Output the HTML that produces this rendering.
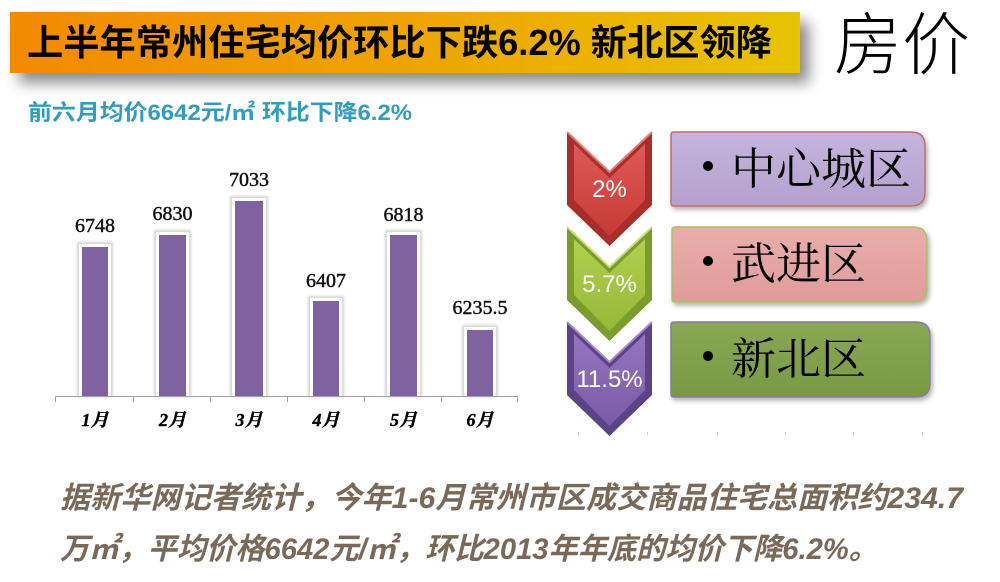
<!DOCTYPE html>
<html><head><meta charset="utf-8"><style>
html,body{margin:0;padding:0;background:#fff;}
svg{display:block;}
</style></head><body>
<svg width="1000" height="582" viewBox="0 0 1000 582" xmlns="http://www.w3.org/2000/svg">
<defs>
  <linearGradient id="ban" x1="0" y1="0" x2="1" y2="0">
    <stop offset="0" stop-color="#f38a00"/>
    <stop offset="0.5" stop-color="#eea400"/>
    <stop offset="1" stop-color="#e7c300"/>
  </linearGradient>
  <filter id="bsh" x="-5%" y="-20%" width="115%" height="180%">
    <feDropShadow dx="9" dy="10" stdDeviation="7" flood-color="#000" flood-opacity="0.45"/>
  </filter>
  <filter id="blur1"><feGaussianBlur stdDeviation="1.3"/></filter>
  <filter id="boxsh" x="-5%" y="-10%" width="115%" height="130%">
    <feDropShadow dx="2" dy="3" stdDeviation="2.5" flood-color="#000" flood-opacity="0.3"/>
  </filter>
  <linearGradient id="redg" x1="0" y1="0" x2="0" y2="1">
    <stop offset="0" stop-color="#df5a55"/><stop offset="1" stop-color="#c63a36"/>
  </linearGradient>
  <linearGradient id="greeng" x1="0" y1="0" x2="0" y2="1">
    <stop offset="0" stop-color="#b0d04e"/><stop offset="1" stop-color="#97b838"/>
  </linearGradient>
  <linearGradient id="purg" x1="0" y1="0" x2="0" y2="1">
    <stop offset="0" stop-color="#9475bf"/><stop offset="1" stop-color="#7b5aa6"/>
  </linearGradient>
  <linearGradient id="b1" x1="0" y1="0" x2="0" y2="1">
    <stop offset="0" stop-color="#c4b5dd"/><stop offset="1" stop-color="#b3a1cd"/>
  </linearGradient>
  <linearGradient id="b2" x1="0" y1="0" x2="0" y2="1">
    <stop offset="0" stop-color="#e9aeab"/><stop offset="1" stop-color="#df9c99"/>
  </linearGradient>
  <linearGradient id="b3" x1="0" y1="0" x2="0" y2="1">
    <stop offset="0" stop-color="#89a854"/><stop offset="1" stop-color="#789944"/>
  </linearGradient>
</defs>

<!-- Banner -->
<rect x="10" y="12" width="790" height="61" fill="url(#ban)" filter="url(#bsh)"/>
<text x="27" y="55" textLength="745" lengthAdjust="spacingAndGlyphs" font-family="'Liberation Sans','Noto Sans CJK SC',sans-serif" font-weight="bold" font-size="36" fill="#000">上半年常州住宅均价环比下跌6.2% 新北区领降</text>

<text x="834" y="69" textLength="136" lengthAdjust="spacingAndGlyphs" font-family="'Noto Sans CJK SC',sans-serif" font-weight="300" font-size="68" fill="#000">房价</text>

<!-- Subtitle -->
<text x="28" y="120" textLength="384" lengthAdjust="spacingAndGlyphs" font-family="'Liberation Sans','Noto Sans CJK SC',sans-serif" font-weight="bold" font-size="22" fill="#2e9dbf">前六月均价6642元/㎡ 环比下降6.2%</text>

<!-- Chart -->
<g>
  <g fill="#d4d4d4" filter="url(#blur1)">
    <rect x="77" y="242" width="36" height="155"/>
    <rect x="154" y="230" width="37" height="167"/>
    <rect x="230" y="196" width="38" height="201"/>
    <rect x="308" y="296" width="36" height="101"/>
    <rect x="385" y="230" width="37" height="167"/>
    <rect x="462" y="325" width="36" height="72"/>
  </g>
  <g fill="#ffffff">
    <rect x="79" y="244" width="32" height="152"/>
    <rect x="156" y="232" width="33" height="164"/>
    <rect x="232" y="198" width="34" height="198"/>
    <rect x="310" y="298" width="32" height="98"/>
    <rect x="387" y="232" width="33" height="164"/>
    <rect x="464" y="327" width="32" height="69"/>
  </g>
  <g fill="#7f63a1">
    <rect x="82" y="247" width="26" height="149"/>
    <rect x="159" y="235" width="27" height="161"/>
    <rect x="235" y="201" width="28" height="195"/>
    <rect x="313" y="301" width="26" height="95"/>
    <rect x="390" y="235" width="27" height="161"/>
    <rect x="467" y="330" width="26" height="66"/>
  </g>
  <line x1="55" y1="396.5" x2="518" y2="396.5" stroke="#a0a0a0" stroke-width="1"/>
  <g stroke="#a0a0a0" stroke-width="1">
    <line x1="55.5" y1="396" x2="55.5" y2="402"/>
    <line x1="133.5" y1="396" x2="133.5" y2="402"/>
    <line x1="210.5" y1="396" x2="210.5" y2="402"/>
    <line x1="287.5" y1="396" x2="287.5" y2="402"/>
    <line x1="364.5" y1="396" x2="364.5" y2="402"/>
    <line x1="441.5" y1="396" x2="441.5" y2="402"/>
    <line x1="517.5" y1="396" x2="517.5" y2="402"/>
  </g>
  <g font-family="'Liberation Serif','Noto Serif CJK SC',serif" font-size="20" fill="#111" stroke="#111" stroke-width="0.45" text-anchor="middle">
    <text x="95" y="232">6748</text>
    <text x="172.5" y="220">6830</text>
    <text x="249" y="186">7033</text>
    <text x="326" y="287">6407</text>
    <text x="403.5" y="221">6818</text>
    <text x="480" y="314">6235.5</text>
  </g>
  <g font-family="'Liberation Serif','Noto Serif CJK SC',serif" font-size="18" font-weight="bold" font-style="italic" fill="#000" stroke="#000" stroke-width="0.4" text-anchor="middle">
    <text x="95" y="426">1月</text>
    <text x="172.5" y="426">2月</text>
    <text x="249" y="426">3月</text>
    <text x="326" y="426">4月</text>
    <text x="403.5" y="426">5月</text>
    <text x="480" y="426">6月</text>
  </g>
</g>

<!-- Chevrons -->
<g>
  <polygon points="567,132 609.5,172 652,132 652,205 609.5,246 567,205" fill="#a92d2a"/>
  <polygon points="574,144 609.5,178 645,144 645,200 609.5,236 574,200" fill="url(#redg)"/>
  <polyline points="567,132 609.5,172 652,132" fill="none" stroke="#e87a75" stroke-width="2"/>

  <polygon points="567,227 609.5,267 652,227 652,300 609.5,341 567,300" fill="#7b9b2a"/>
  <polygon points="574,239 609.5,273 645,239 645,295 609.5,331 574,295" fill="url(#greeng)"/>
  <polyline points="567,227 609.5,267 652,227" fill="none" stroke="#c8e07e" stroke-width="2"/>

  <polygon points="567,322 609.5,362 652,322 652,395 609.5,436 567,395" fill="#5c4286"/>
  <polygon points="574,334 609.5,368 645,334 645,390 609.5,426 574,390" fill="url(#purg)"/>
  <polyline points="567,322 609.5,362 652,322" fill="none" stroke="#a58bcc" stroke-width="2"/>

  <g font-family="'Liberation Sans',sans-serif" font-size="24" fill="#fff" text-anchor="middle">
    <text x="609.5" y="197">2%</text>
    <text x="609.5" y="292">5.7%</text>
    <text x="609.5" y="387">11.5%</text>
  </g>
</g>

<!-- Boxes -->
<g filter="url(#boxsh)">
  <path d="M674,132 H911 Q925,132 925,146 V192 Q925,206 911,206 H674 Q671,206 671,203 V135 Q671,132 674,132 Z" fill="url(#b1)" stroke="#c46a6a" stroke-width="1.5"/>
  <path d="M675,227 H913 Q927,227 927,241 V288 Q927,302 913,302 H675 Q672,302 672,299 V230 Q672,227 675,227 Z" fill="url(#b2)" stroke="#a9c25a" stroke-width="1.5"/>
  <path d="M674,322 H916 Q930,322 930,336 V383 Q930,397 916,397 H674 Q671,397 671,394 V325 Q671,322 674,322 Z" fill="url(#b3)" stroke="#8a76ae" stroke-width="1.5"/>
</g>
<g fill="#000">
  <circle cx="708" cy="166" r="5"/>
  <circle cx="708" cy="261" r="5"/>
  <circle cx="708" cy="356" r="5"/>
</g>
<g font-family="'Liberation Serif','Noto Serif CJK SC',serif" font-size="44" fill="#000">
  <text x="731" y="184" textLength="180" lengthAdjust="spacingAndGlyphs">中心城区</text>
  <text x="731" y="279" textLength="135" lengthAdjust="spacingAndGlyphs">武进区</text>
  <text x="731" y="374" textLength="135" lengthAdjust="spacingAndGlyphs">新北区</text>
</g>
<g stroke="#d0d0d0" stroke-width="1">
  <line x1="578.5" y1="432" x2="578.5" y2="435"/>
  <line x1="647.5" y1="432" x2="647.5" y2="435"/>
  <line x1="717.5" y1="432" x2="717.5" y2="435"/>
  <line x1="785.5" y1="432" x2="785.5" y2="435"/>
  <line x1="853.5" y1="432" x2="853.5" y2="435"/>
  <line x1="922.5" y1="432" x2="922.5" y2="435"/>
</g>

<!-- Bottom paragraph -->
<g font-family="'Liberation Sans','Noto Sans CJK SC',sans-serif" font-weight="bold" font-style="italic" font-size="30" fill="#7a6858">
  <text x="60" y="508" textLength="903" lengthAdjust="spacingAndGlyphs">据新华网记者统计，今年1-6月常州市区成交商品住宅总面积约234.7</text>
  <text x="60" y="559" textLength="818" lengthAdjust="spacingAndGlyphs">万㎡，平均价格6642元/㎡，环比2013年年底的均价下降6.2%。</text>
</g>
</svg>
</body></html>
